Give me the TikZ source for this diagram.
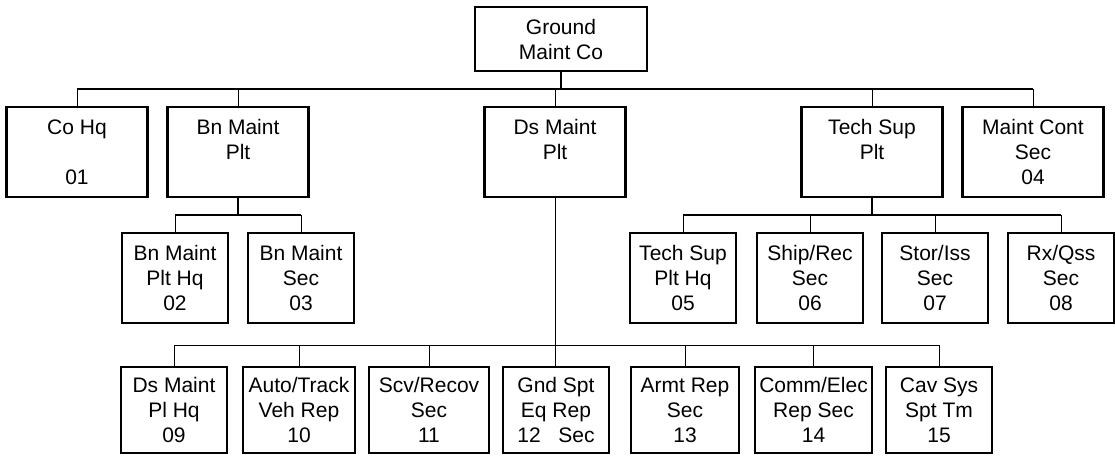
\documentclass[tikz,border=0pt]{standalone}
\usepackage{fontspec}
\setmainfont{Liberation Sans}
\usetikzlibrary{positioning}

\begin{document}
\begin{tikzpicture}[
  x=1pt, y=-1pt,
  node distance=20pt,
  unit/.style={draw,line width=2.3pt,inner sep=0pt,outer sep=0pt,align=center,font=\fontsize{21}{25}\selectfont},
  toprow/.style={unit,minimum width=141pt,minimum height=90pt},
  midrow/.style={unit,minimum width=106pt,minimum height=90pt},
  lowrow/.style={unit,minimum height=86pt},
  bus/.style={line width=2.3pt},
  drop/.style={line width=1pt}
]
\useasboundingbox (0,0) rectangle (1115,455);

\node[unit, minimum width=172pt, minimum height=64pt] (gmc) at (561,39) {Ground\\Maint Co};

\node[toprow] (cohq) at (77,152) {Co Hq\\\mbox{}\\01};
\node[toprow, right=of cohq] (bnplt) {Bn Maint\\Plt\\\mbox{}};
\node[toprow, right=176pt of bnplt] (dsplt) {Ds Maint\\Plt\\\mbox{}};
\node[toprow, right=176pt of dsplt] (tsplt) {Tech Sup\\Plt\\\mbox{}};
\node[toprow, right=of tsplt] (mcont) {Maint Cont\\Sec\\04};

\node[midrow] (bnhq) at (175,278) {Bn Maint\\Plt Hq\\02};
\node[midrow, right=of bnhq] (bnsec) {Bn Maint\\Sec\\03};

\node[midrow] (tshq) at (683,278) {Tech Sup\\Plt Hq\\05};
\node[midrow, right=21pt of tshq] (ship) {Ship/Rec\\Sec\\06};
\node[midrow, right=19pt of ship] (stor) {Stor/Iss\\Sec\\07};
\node[midrow, right=of stor] (rxqss) {Rx/Qss\\Sec\\08};

\node[lowrow, minimum width=106pt] (dshq) at (174,410) {Ds Maint\\Pl Hq\\09};
\node[lowrow, minimum width=112pt, right=16pt of dshq] (autotrk) {Auto/Track\\Veh Rep\\10};
\node[lowrow, minimum width=120pt, right=14pt of autotrk] (scv) {Scv/Recov\\Sec\\11};
\node[lowrow, minimum width=106pt, right=14pt of scv] (gndspt) {Gnd Spt\\Eq Rep\\12~~~Sec};
\node[lowrow, minimum width=108pt, right=22pt of gndspt] (armt) {Armt Rep\\Sec\\13};
\node[lowrow, minimum width=117pt, right=16pt of armt] (comm) {Comm/Elec\\Rep Sec\\14};
\node[lowrow, minimum width=106pt, right=14pt of comm] (cavsys) {Cav Sys\\Spt Tm\\15};

\coordinate (topbus) at (0,89);
\coordinate (midbus) at (0,215);
\coordinate (lowbus) at (0,345);

\draw[bus] (gmc.south) -- (gmc.south |- topbus);
\draw[bus] (cohq.north |- topbus) -- (mcont.north |- topbus);
\foreach \n in {cohq,bnplt,dsplt,tsplt,mcont}
  \draw[drop] (\n.north |- topbus) -- (\n.north);

\draw[bus] (bnplt.south) -- (bnplt.south |- midbus);
\draw[bus] (bnhq.north |- midbus) -- (bnsec.north |- midbus);
\draw[bus] (tsplt.south) -- (tsplt.south |- midbus);
\draw[bus] (tshq.north |- midbus) -- (rxqss.north |- midbus);
\foreach \n in {bnhq,bnsec,tshq,ship,stor,rxqss}
  \draw[drop] (\n.north |- midbus) -- (\n.north);

\draw[drop] (dsplt.south) -- (dsplt.south |- gndspt.north);
\draw[drop] (dshq.north |- lowbus) -- (cavsys.north |- lowbus);
\foreach \n in {dshq,autotrk,scv,armt,comm,cavsys}
  \draw[drop] (\n.north |- lowbus) -- (\n.north);

\end{tikzpicture}
\end{document}
